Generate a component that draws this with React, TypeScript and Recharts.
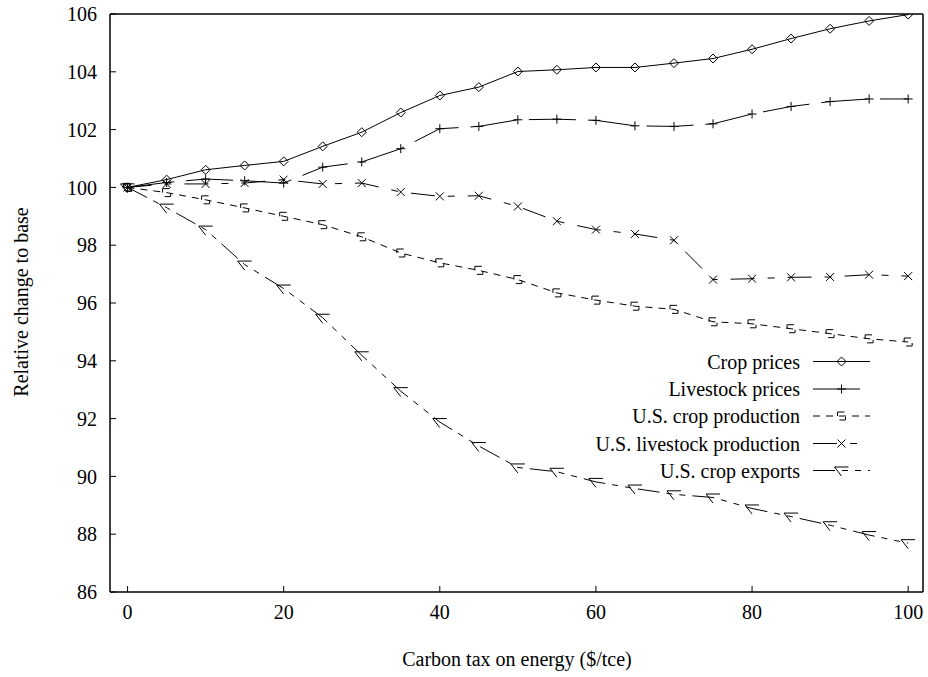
import { LineChart, Line, XAxis, YAxis, ReferenceLine } from "recharts";

// carbon tax levels ($/tce)
const taxLevels = [0, 5, 10, 15, 20, 25, 30, 35, 40, 45, 50, 55, 60, 65, 70, 75, 80, 85, 90, 95, 100];

// relative change to base (base = 100)
const cropPrices = [100, 100.27, 100.61, 100.76, 100.9, 101.42, 101.91, 102.59, 103.18, 103.47, 104.01, 104.07, 104.15, 104.15, 104.3, 104.46, 104.78, 105.15, 105.49, 105.76, 105.98];
const livestockPrices = [100, 100.17, 100.29, 100.23, 100.15, 100.7, 100.88, 101.34, 102.03, 102.11, 102.34, 102.36, 102.32, 102.13, 102.11, 102.2, 102.54, 102.8, 102.97, 103.06, 103.06];
const cropProduction = [100, 99.82, 99.57, 99.29, 99.0, 98.71, 98.29, 97.73, 97.39, 97.13, 96.81, 96.35, 96.1, 95.89, 95.78, 95.35, 95.28, 95.11, 94.94, 94.76, 94.65];
const livestockProduction = [100, 100.12, 100.12, 100.15, 100.27, 100.12, 100.15, 99.84, 99.69, 99.71, 99.34, 98.83, 98.54, 98.39, 98.17, 96.81, 96.84, 96.89, 96.9, 96.98, 96.93];
const cropExports = [100, 99.3, 98.54, 97.33, 96.5, 95.49, 94.19, 92.95, 91.88, 91.05, 90.31, 90.16, 89.81, 89.58, 89.38, 89.27, 88.89, 88.61, 88.31, 87.97, 87.69];

const xTicks = [0, 20, 40, 60, 80, 100];
const yTicks = [86, 88, 90, 92, 94, 96, 98, 100, 102, 104, 106];

const FONT = "Liberation Serif, Times New Roman, DejaVu Serif, serif";

type Shape = "diamond" | "plus" | "box" | "cross" | "triangle";

const series: { key: string; name: string; dash?: string; shape: Shape }[] = [
  { key: "crop", name: "Crop prices", shape: "diamond" },
  { key: "livestock", name: "Livestock prices", dash: "47 12", shape: "plus" },
  { key: "cropProd", name: "U.S. crop production", dash: "7 6", shape: "box" },
  { key: "livestockProd", name: "U.S. livestock production", dash: "24 13 7 13", shape: "cross" },
  { key: "exports", name: "U.S. crop exports", dash: "22 7 6 7 6 7", shape: "triangle" },
];

const data = taxLevels.map((tax, i) => ({
  tax,
  crop: cropPrices[i],
  livestock: livestockPrices[i],
  cropProd: cropProduction[i],
  livestockProd: livestockProduction[i],
  exports: cropExports[i],
}));

// gnuplot-ish point symbols (drawn partly broken like the dashed originals)
function markerPath(shape: Shape) {
  switch (shape) {
    case "diamond":
      return "M0,-4.5 L4.5,0 L0,4.5 L-4.5,0 Z";
    case "plus":
      return "M-4.5,0 H4.5 M0,-4.5 V4.5";
    case "box":
      return "M3,-4 H-4 V0 M-2,4 H4 V1";
    case "cross":
      return "M-4,-4 L4,4 M-4,4 L4,-4";
    case "triangle":
      return "M7,-3.5 H-7 L0,5.5";
  }
}

function Marker({ cx, cy, shape }: { cx: number; cy: number; shape: Shape }) {
  return (
    <path
      d={markerPath(shape)}
      transform={`translate(${cx},${cy})`}
      stroke="#000"
      strokeWidth={1}
      fill="none"
    />
  );
}

const legendRows = [361.5, 389, 416, 443.5, 470.5];
const tickStyle = { fill: "#000", fontSize: 20, style: { fontFamily: FONT } };

export default function App() {
  return (
    <div style={{ position: "absolute", left: 0, top: 0, width: 928, height: 677, background: "#fff", fontFamily: FONT }}>
      <LineChart width={928} height={677} data={data} margin={{ top: 14, right: 5, bottom: 0, left: 0 }} style={{ fontFamily: FONT }}>
        <XAxis
          dataKey="tax"
          type="number"
          domain={[-2.25, 101.9]}
          ticks={xTicks}
          allowDataOverflow
          height={85}
          tickSize={-6}
          tickMargin={19}
          axisLine={{ stroke: "#000", strokeWidth: 1.5 }}
          tickLine={{ stroke: "#000" }}
          tick={tickStyle}
        />
        <YAxis
          type="number"
          domain={[86, 106]}
          ticks={yTicks}
          allowDataOverflow
          width={110}
          tickSize={-6}
          tickMargin={19}
          axisLine={{ stroke: "#000", strokeWidth: 1.5 }}
          tickLine={{ stroke: "#000" }}
          tick={tickStyle}
        />
        <ReferenceLine y={106} stroke="#000" strokeWidth={1.5} />
        <ReferenceLine x={101.9} stroke="#000" strokeWidth={1.5} />
        {series.map((s) => (
          <Line
            key={s.key}
            dataKey={s.key}
            name={s.name}
            type="linear"
            stroke="#000"
            strokeWidth={1}
            strokeDasharray={s.dash}
            isAnimationActive={false}
            activeDot={false}
            dot={(p: any) => <Marker key={`${s.key}-${p.index}`} cx={p.cx} cy={p.cy} shape={s.shape} />}
          />
        ))}
      </LineChart>
      <svg
        width={928}
        height={677}
        style={{ position: "absolute", left: 0, top: 0, pointerEvents: "none", fontFamily: FONT }}
      >
        <text x={28} y={302} fontSize={20} textAnchor="middle" transform="rotate(-90, 28, 302)">
          Relative change to base
        </text>
        <text x={517} y={666} fontSize={20} textAnchor="middle">
          Carbon tax on energy ($/tce)
        </text>
        {series.map((s, i) => (
          <g key={s.key}>
            <text x={800} y={legendRows[i] + 7} fontSize={20} textAnchor="end">
              {s.name}
            </text>
            <line
              x1={813}
              x2={870}
              y1={legendRows[i]}
              y2={legendRows[i]}
              stroke="#000"
              strokeWidth={1}
              strokeDasharray={s.dash}
            />
            <Marker cx={841.5} cy={legendRows[i]} shape={s.shape} />
          </g>
        ))}
      </svg>
    </div>
  );
}
